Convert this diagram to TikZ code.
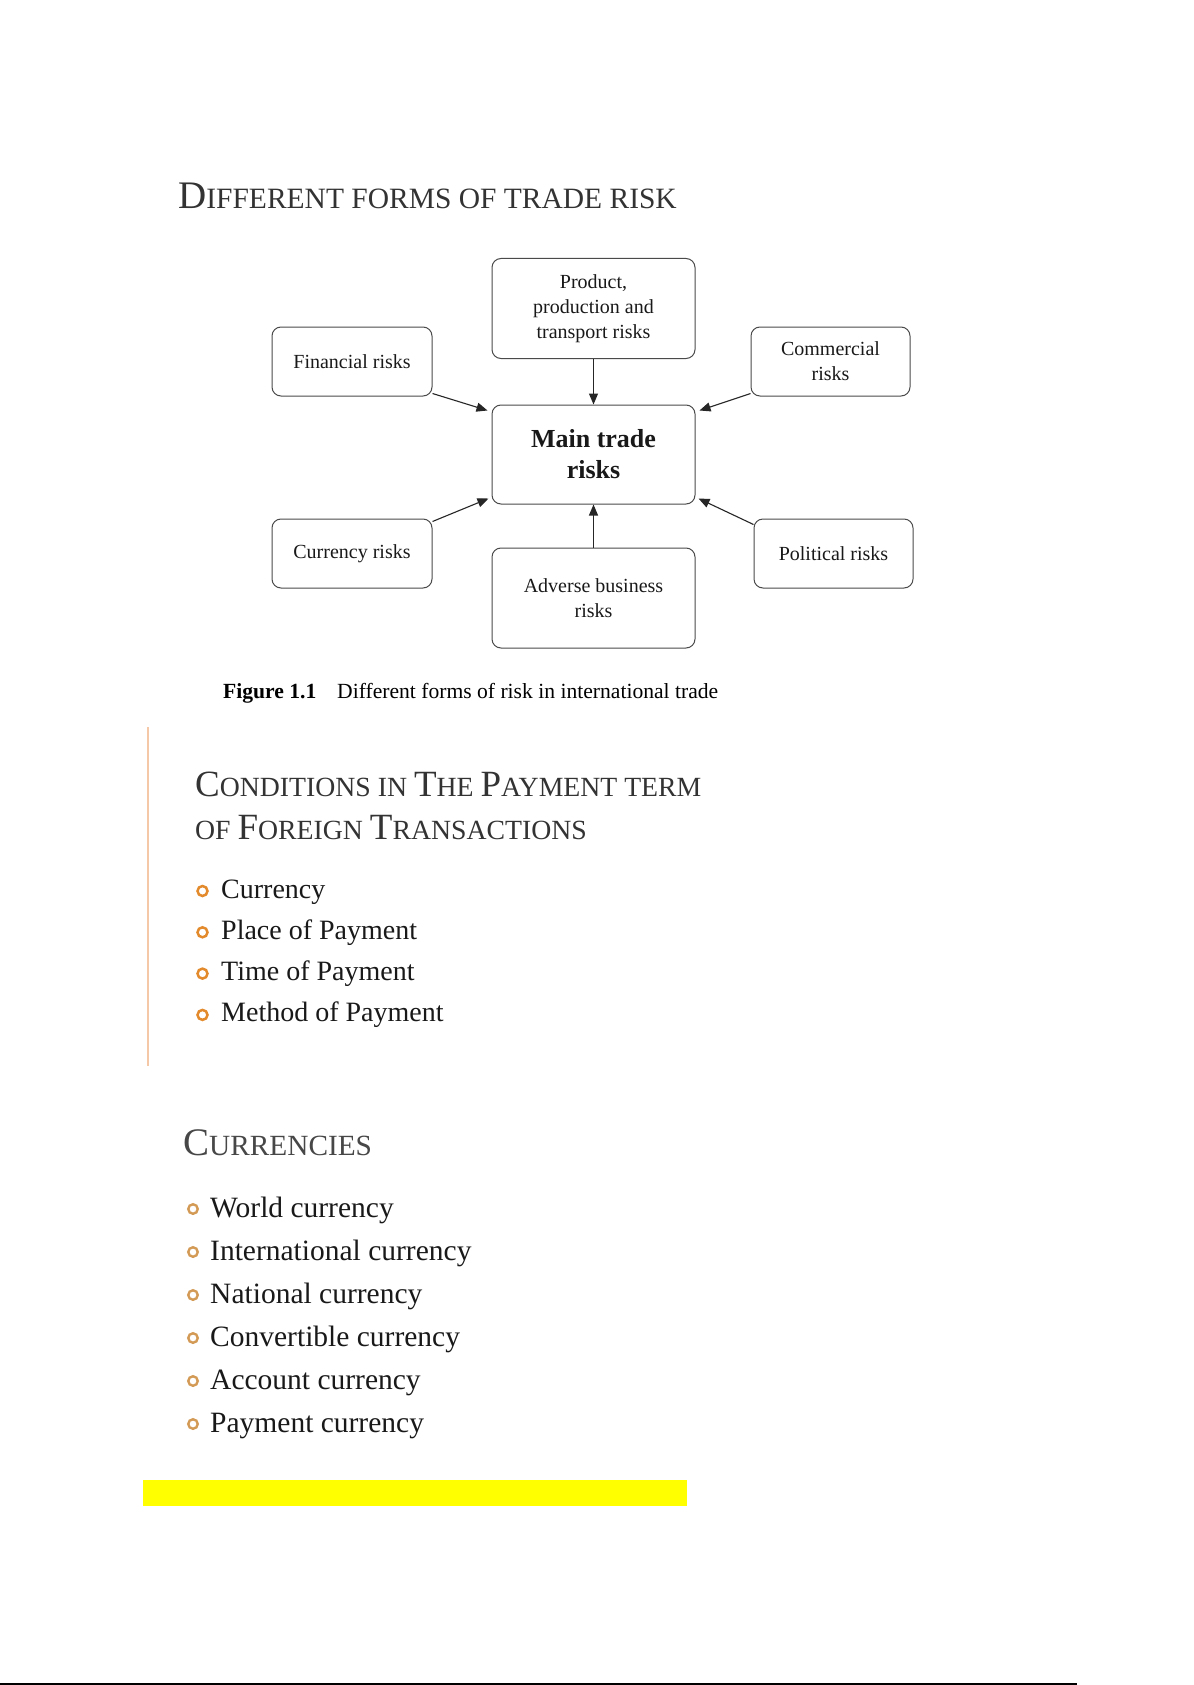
\documentclass[tikz,border=0pt]{standalone}
\usepackage{fontspec}
\setmainfont{Liberation Serif}
\usepackage{xcolor}
\usepackage{tikz}
\usetikzlibrary{arrows.meta}

\definecolor{boxline}{HTML}{4A4A4A}
\definecolor{titlegray}{HTML}{333333}
\definecolor{bulletorange}{HTML}{E38B2C}
\definecolor{bulletbrown}{HTML}{D39A55}
\definecolor{rulepeach}{HTML}{F5C8A8}
\definecolor{markyellow}{HTML}{FFFF00}

% fake small caps: size and text
\newcommand{\txtsz}[2]{{\fontsize{#1}{#1}\selectfont #2}}

\tikzset{
  riskbox/.style={draw=boxline, line width=1pt, rounded corners=9pt, align=center, inner sep=0pt,
    minimum width=160pt, minimum height=69pt, text=black!90, font=\fontsize{20}{25}\selectfont},
  widebox/.style={riskbox, minimum width=203pt, minimum height=100pt},
  riskarrow/.style={draw=black!85, line width=1.1pt, -{Triangle[length=11pt,width=9pt]}},
  listitem/.style={anchor=base west, inner sep=0pt, text=black!90},
  ring/.style={circle, draw=#1, line width=2.5pt, minimum size=10pt, inner sep=0pt},
  headline/.style={anchor=base west, inner sep=0pt, text=titlegray},
}

\begin{document}
\begin{tikzpicture}[x=1pt, y=-1pt]
\useasboundingbox[fill=white] (0,0) rectangle (1193,1685);

% title of the figure
\node[headline] (risktitle) at (178,209) {\txtsz{39}{D}\txtsz{29.5}{IFFERENT FORMS OF TRADE RISK}};

% the boxes
\node[widebox] (prod) at (593.5,308.5) {Product,\\production and\\transport risks};
\node[riskbox] (fin) at (352,361.5) {Financial risks};
\node[riskbox, minimum width=159pt] (comm) at (830.5,361.5) {Commercial\\risks};
\node[widebox, minimum height=99pt, font=\bfseries\fontsize{26}{31}\selectfont] (main) at (593.5,454.5) {Main trade\\risks};
\node[riskbox] (curr) at (352,553.5) {Currency risks};
\node[riskbox, minimum width=159pt] (pol) at (833.5,553.5) {Political risks};
\node[widebox] (adv) at (593.5,598) {Adverse business\\risks};

% arrows into the main box
\draw[riskarrow] (prod.south) -- (main.north);
\draw[riskarrow] (adv.north) -- (main.south);
\draw[riskarrow] ([yshift=3pt]fin.south east) -- ([xshift=-4pt,yshift=-6pt]main.north west);
\draw[riskarrow] ([yshift=3pt]comm.south west) -- ([xshift=4pt,yshift=-6pt]main.north east);
\draw[riskarrow] ([yshift=-3pt]curr.north east) -- ([xshift=-3pt,yshift=6pt]main.south west);
\draw[riskarrow] ([yshift=-6pt]pol.north west) -- ([xshift=3pt,yshift=6pt]main.south east);

% caption
\node[anchor=base west, inner sep=0pt, font=\bfseries\fontsize{21.6}{26}\selectfont] (figno) at (223,698) {Figure 1.1};
\node[anchor=base west, inner sep=0pt, font=\fontsize{21.6}{26}\selectfont] (figcap) at (337,698) {Different forms of risk in international trade};

% conditions of payment
\draw[rulepeach, line width=2pt] (148,727) -- (148,1066);
\node[headline] (condtitle) at (195,796) {\txtsz{37}{C}\txtsz{27.75}{ONDITIONS IN }\txtsz{37}{T}\txtsz{27.75}{HE }\txtsz{37}{P}\txtsz{27.75}{AYMENT TERM}};
\node[headline] (condtitleb) at (195,839) {\txtsz{27.75}{OF }\txtsz{37}{F}\txtsz{27.75}{OREIGN }\txtsz{37}{T}\txtsz{27.75}{RANSACTIONS}};
\foreach \txt [count=\i] in {Currency, Place of Payment, Time of Payment, Method of Payment} {
  \pgfmathsetmacro{\yb}{898+41.3*(\i-1)}
  \node[ring=bulletorange] (condbullet\i) at (202.5,\yb-7) {};
  \node[listitem, font=\fontsize{28}{30}\selectfont] (conditem\i) at (221,\yb) {\txt};
}

% currencies
\node[headline, text=titlegray!90] (curtitle) at (183,1155) {\txtsz{39}{C}\txtsz{29.3}{URRENCIES}};
\foreach \txt [count=\i] in {World currency, International currency, National currency,
    Convertible currency, Account currency, Payment currency} {
  \pgfmathsetmacro{\yb}{1217+43*(\i-1)}
  \node[ring=bulletbrown, line width=2.4pt, minimum size=9.5pt] (curbullet\i) at (193,\yb-8) {};
  \node[listitem, font=\fontsize{29.5}{32}\selectfont] (curitem\i) at (210,\yb) {\txt};
}

% yellow mark and bottom rule
\fill[markyellow] (143,1480) rectangle (687,1506);
\draw[black, line width=1.5pt] (0,1684) -- (1077,1684);
\end{tikzpicture}
\end{document}
